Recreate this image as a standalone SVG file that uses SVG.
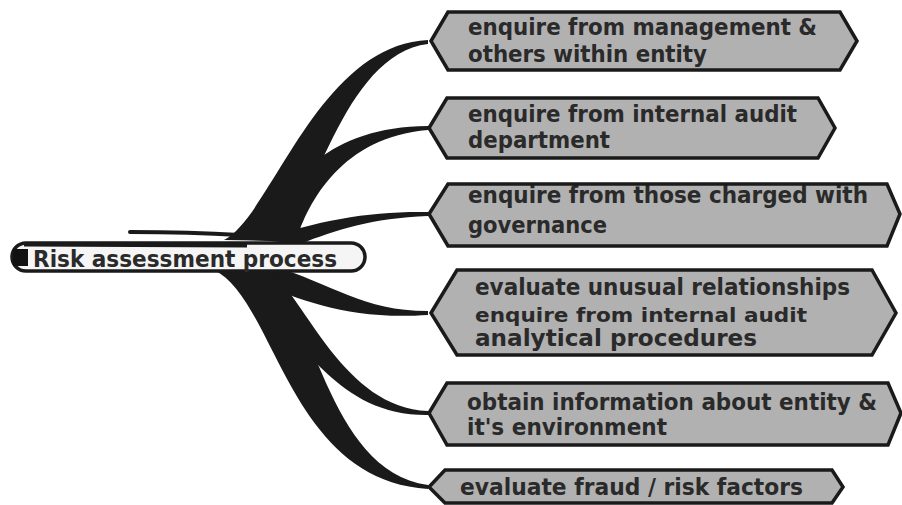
<svg xmlns="http://www.w3.org/2000/svg" width="902" height="505" viewBox="0 0 902 505">
  <style>
    .branch { fill: #1a1a1a; stroke: none; }
    .box { fill: #b1b1b1; stroke: none; }
    .edge { fill: none; stroke: #1a1a1a; stroke-width: 3.5; stroke-linejoin: miter; }
    .lbl { font-family: "DejaVu Sans", Verdana, sans-serif; font-weight: bold; font-size: 22.5px; fill: #2a2a2a; }
    .sm { font-size: 19px; }
  </style>

  <!-- tapered branches from the central topic to each sub-topic -->
  <g id="connectors">
    <path class="branch" d="M224 240 C272 215 318 45 428 40 L428 44 C342 54 312 215 278 241 Z"/>
    <path class="branch" d="M246 240 C288 188 320 127 428 126 L428 130 C342 137 308 202 296 241 Z"/>
    <path class="branch" d="M260 240 C320 220 370 211 428 212 L428 216 C372 218 336 230 300 244 Z"/>
    <path class="branch" d="M272 266 C334 284 362 311 428 311 L428 315 C350 320 306 302 256 282 Z"/>
    <path class="branch" d="M268 268 C306 300 344 408 428 411 L428 415 C328 416 296 322 236 280 Z"/>
    <path class="branch" d="M214 270 C276 300 288 480 428 489 L428 485 C324 470 316 300 262 270 Z"/>
    <path d="M130 232 Q190 232 240 235" fill="none" stroke="#1a1a1a" stroke-width="4" stroke-linecap="round"/>
  </g>

  <!-- central topic -->
  <g id="root">
    <rect x="12" y="243" width="353" height="28" rx="14" ry="14" fill="#f5f5f5" stroke="#1a1a1a" stroke-width="3.5"/>
    <path d="M24 244.5 L247 245.5" fill="none" stroke="#1a1a1a" stroke-width="4"/>
    <rect x="13" y="249" width="15" height="17" fill="#111"/>
    <text class="lbl" x="33" y="267" textLength="304" lengthAdjust="spacingAndGlyphs">Risk assessment process</text>
  </g>

  <g id="n1">
    <path class="box" d="M431 41 L448 12 L840 12 L857 41 L840 70 L448 70 Z"/>
    <text class="lbl" x="468" y="35" textLength="349" lengthAdjust="spacingAndGlyphs">enquire from management &amp;</text>
    <text class="lbl" x="468" y="62" textLength="239" lengthAdjust="spacingAndGlyphs">others within entity</text>
    <path class="edge" d="M431 41 L448 12 L840 12 L857 41 L840 70 L448 70 Z"/>
  </g>

  <g id="n2">
    <path class="box" d="M429 128 L447 98 L818 98 L835 128 L818 158 L447 158 Z"/>
    <text class="lbl" x="468" y="122" textLength="329" lengthAdjust="spacingAndGlyphs">enquire from internal audit</text>
    <text class="lbl" x="468" y="148" textLength="142" lengthAdjust="spacingAndGlyphs">department</text>
    <path class="edge" d="M429 128 L447 98 L818 98 L835 128 L818 158 L447 158 Z"/>
  </g>

  <g id="n3">
    <path class="box" d="M429 214 L448 184 L887 184 L900 214 L887 246 L448 246 Z"/>
    <text class="lbl" x="468" y="203" textLength="400" lengthAdjust="spacingAndGlyphs">enquire from those charged with</text>
    <text class="lbl" x="468" y="233" textLength="139" lengthAdjust="spacingAndGlyphs">governance</text>
    <path class="edge" d="M429 214 L448 184 L887 184 L900 214 L887 246 L448 246 Z"/>
  </g>

  <g id="n4">
    <path class="box" d="M431 313 L457 270 L872 270 L896 313 L872 355 L457 355 Z"/>
    <text class="lbl" x="475" y="295" textLength="375" lengthAdjust="spacingAndGlyphs">evaluate unusual relationships</text>
    <text class="lbl sm" x="475" y="322" textLength="332" lengthAdjust="spacingAndGlyphs">enquire from internal audit</text>
    <text class="lbl" x="475" y="346" textLength="282" lengthAdjust="spacingAndGlyphs">analytical procedures</text>
    <path class="edge" d="M431 313 L457 270 L872 270 L896 313 L872 355 L457 355 Z"/>
  </g>

  <g id="n5">
    <path class="box" d="M429 413 L447 383 L888 383 L901 413 L888 445 L447 445 Z"/>
    <text class="lbl" x="467" y="410" textLength="410" lengthAdjust="spacingAndGlyphs">obtain information about entity &amp;</text>
    <text class="lbl" x="467" y="435" textLength="200" lengthAdjust="spacingAndGlyphs">it's environment</text>
    <path class="edge" d="M429 413 L447 383 L888 383 L901 413 L888 445 L447 445 Z"/>
  </g>

  <g id="n6">
    <path class="box" d="M429 487 L445 470 L832 470 L843 487 L832 503 L445 503 Z"/>
    <text class="lbl" x="460" y="495" textLength="343" lengthAdjust="spacingAndGlyphs">evaluate fraud / risk factors</text>
    <path class="edge" d="M429 487 L445 470 L832 470 L843 487 L832 503 L445 503 Z"/>
  </g>
</svg>
